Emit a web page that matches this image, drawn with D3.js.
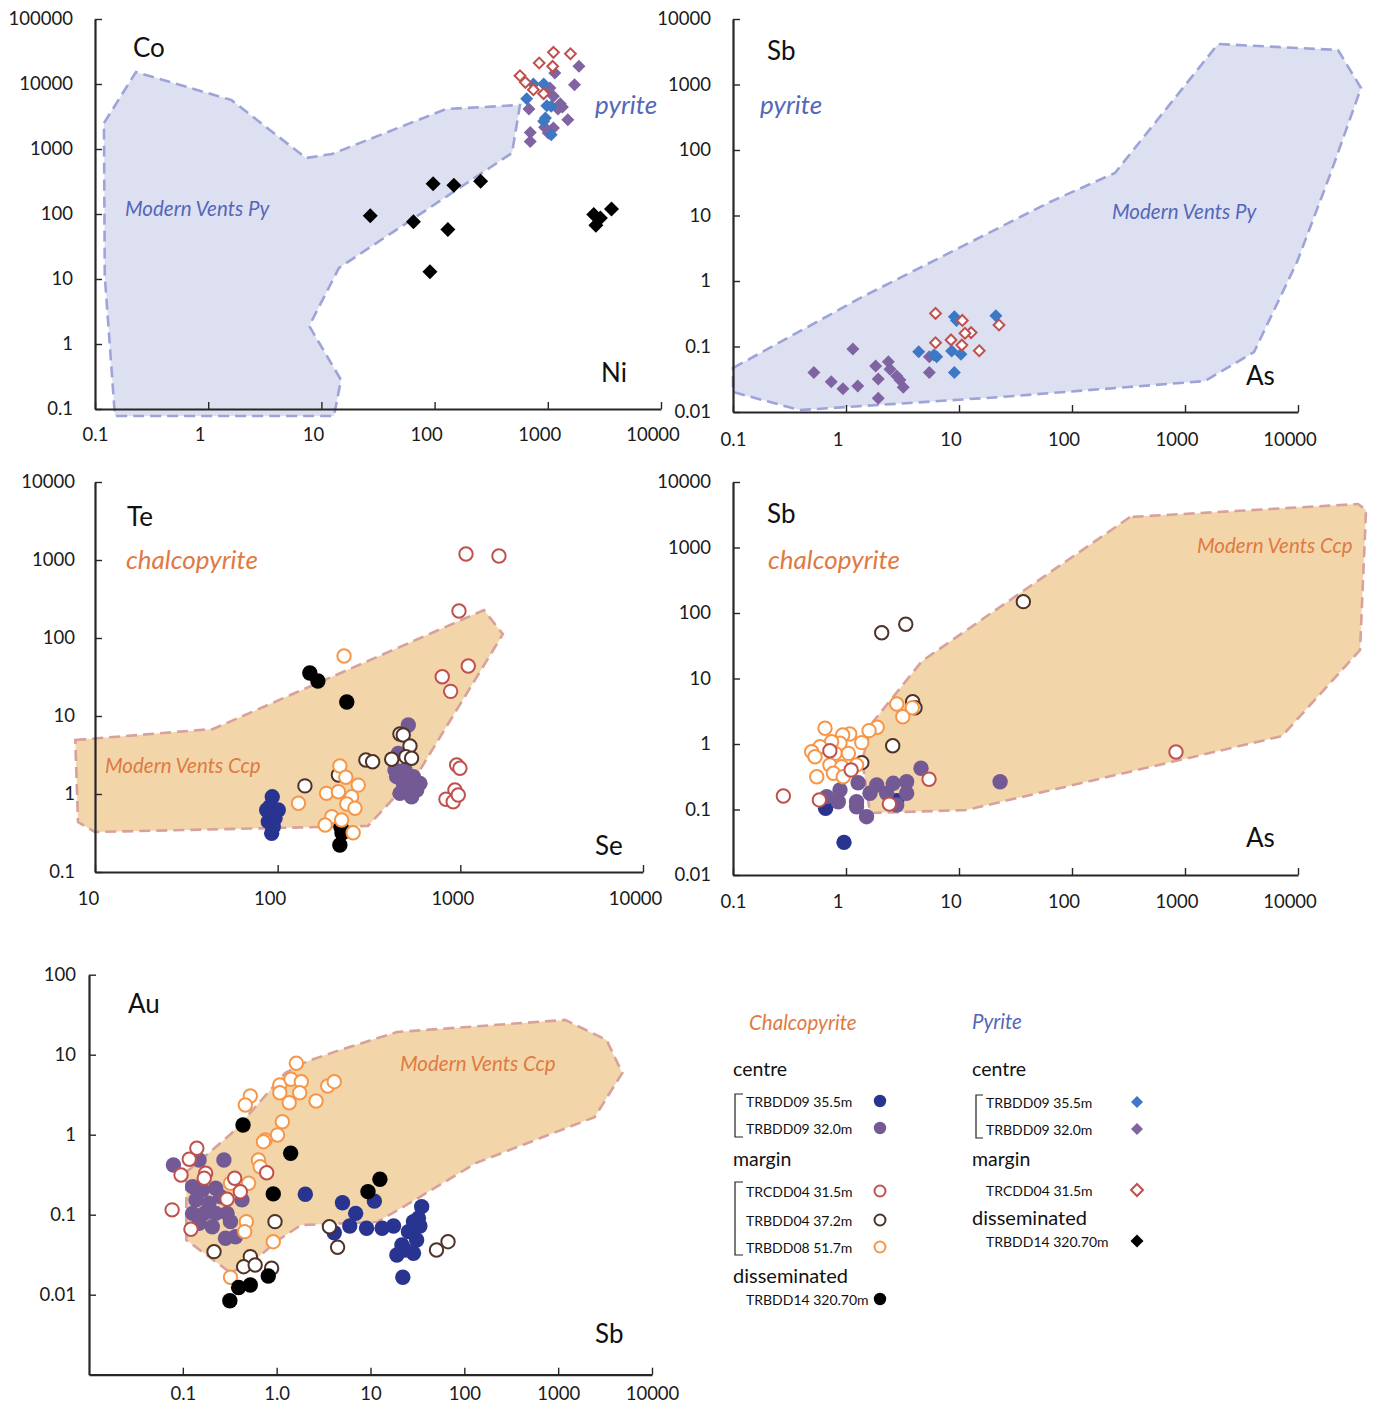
<!DOCTYPE html>
<html><head><meta charset="utf-8">
<script src="https://cdn.jsdelivr.net/npm/d3@7"></script>
<style>
body{margin:0;background:#fff;}
svg{display:block;font-family:Lato,"Open Sans",sans-serif;}
</style></head><body>
<svg id="chart" width="1373" height="1405"></svg>
<script>
// ---------------- DATA ----------------
// Panel 1: pyrite Ni (x) vs Co (y)
const pyNiCo_TRBDD14 = [[27,94],[65,76],[97,292],[91,12.9],[131,58],[148,277],[255,318],[2545,98],[2915,87],[2660,67],[3655,119]];
const pyNiCo_TRBDD09_320 = [[1153,14760],[1883,18700],[1722,9750],[1044,8670],[1122,6470],[681,4120],[1288,4980],[1346,4430],[1230,4120],[1502,2820],[700,1800],[700,1310],[1122,2100],[937,2160],[1009,1760]];
const pyNiCo_TRBDD09_355 = [[746,10000],[920,10000],[651,5940],[980,4640],[1072,4540],[953,3000],[920,2670],[1072,1660]];
const pyNiCo_TRCDD04 = [[568,13400],[634,10600],[839,21000],[1122,30700],[1585,29200],[1103,18700],[746,8170],[918,7100]];
const ventsPy_NiCo = [[0.12,2500],[0.23,15300],[1.6,5670],[7.3,727],[12.4,838],[126,4120],[568,4750],[483,868],[14.3,14.8],[7.8,1.9],[14.9,0.28],[12.9,0.078],[0.15,0.078],[0.122,11.1]];

// Panel 2: pyrite As (x) vs Sb (y)
const pyAsSb_TRBDD09_320 = [[1.15,0.0916],[0.52,0.040],[0.74,0.029],[0.94,0.0227],[1.27,0.0249],[1.83,0.0504],[2.37,0.0586],[2.45,0.0449],[1.93,0.0319],[2.81,0.0355],[3.0,0.0308],[3.21,0.0238],[1.93,0.0162],[5.46,0.040],[5.46,0.070]];
const pyAsSb_TRBDD09_355 = [[9.1,0.285],[9.5,0.25],[21.2,0.295],[4.4,0.083],[6.0,0.074],[6.35,0.070],[8.6,0.085],[10.4,0.076],[9.1,0.040]];
const pyAsSb_TRCDD04 = [[6.2,0.32],[10.7,0.25],[22.6,0.213],[12.8,0.163],[11.3,0.159],[6.2,0.114],[8.5,0.126],[10.6,0.105],[15.1,0.0863]];
const ventsPy_AsSb = [[0.1,0.047],[1.39,0.57],[63.9,16.1],[240,44.6],[1960,4150],[22600,3365],[36100,885],[19200,41.5],[9800,1.95],[4080,0.082],[1500,0.0297],[23,0.0169],[0.39,0.0107],[0.1,0.0202]];

// Panel 3: chalcopyrite Se (x) vs Te (y)
const ccpSeTe_TRBDD09_355 = [[93.4,0.92],[90.7,0.687],[100.7,0.624],[88.9,0.442],[96.7,0.488],[92.7,0.313],[94.6,0.381],[87.1,0.624]];
const ccpSeTe_TRBDD09_320 = [[519,7.67],[457,3.32],[448,1.67],[487,1.37],[553,1.67],[601,1.37],[467,1.02],[508,1.125],[541,0.92],[439,2.03],[577,1.125],[498,2.03]];
const ccpSeTe_TRBDD04 = [[141,1.27],[304,2.73],[331,2.59],[421,2.79],[467,5.88],[487,5.71],[530,4.12],[504,3.01],[541,2.87],[215,1.75]];
const ccpSeTe_TRBDD08 = [[231,58.8],[219,2.29],[236,1.64],[276,1.30],[185,1.02],[215,1.07],[254,0.92],[239,0.745],[265,0.656],[130,0.76],[198,0.512],[182,0.40],[259,0.319],[224,0.464]];
const ccpSeTe_TRCDD04 = [[1074,1194],[1627,1125],[983,222],[1105,43.8],[796,31.9],[885,20.7],[955,2.35],[995,2.14],[934,1.125],[834,0.855],[914,0.796],[974,0.97]];
const ccpSeTe_TRBDD14 = [[150,35.6],[166,28.1],[239,15.1],[222,0.378],[225,0.316],[219,0.222]];
const ventsCcp_SeTe = [[7.8,4.92],[44.3,6.81],[1346,228],[1710,112],[601,2.03],[312,0.389],[10,0.326],[8.07,0.438]];

// Panel 4: chalcopyrite As (x) vs Sb (y)
const ccpAsSb_TRBDD09_355 = [[0.66,0.104],[2.81,0.136],[0.96,0.0315]];
const ccpAsSb_TRBDD09_320 = [[4.61,0.426],[23.1,0.265],[3.44,0.265],[2.62,0.251],[1.87,0.237],[1.28,0.256],[0.885,0.199],[0.675,0.157],[1.24,0.131],[1.63,0.177],[2.29,0.177],[3.44,0.177],[0.855,0.131],[1.24,0.110],[1.52,0.0777],[2.81,0.117]];
const ccpAsSb_TRBDD04 = [[37.1,149],[2.07,50],[3.38,67.2],[3.89,4.43],[4.08,3.58],[2.59,0.94],[1.38,0.519]];
const ccpAsSb_TRBDD08 = [[2.81,4.08],[3.86,3.58],[3.18,2.61],[0.652,1.74],[1.89,1.80],[1.60,1.60],[1.08,1.42],[0.935,1.37],[1.38,1.05],[0.885,1.03],[0.746,1.08],[0.589,0.91],[0.497,0.762],[0.532,0.64],[0.80,0.72],[1.05,0.72],[0.72,0.477],[0.916,0.45],[1.24,0.477],[0.551,0.317],[0.773,0.357],[0.946,0.317]];
const ccpAsSb_TRCDD04 = [[0.72,0.79],[1.11,0.40],[5.43,0.289],[0.279,0.161],[0.581,0.14],[2.42,0.121],[832,0.755]];
const ventsCcp_AsSb = [[326,2920],[4.71,18.5],[1.73,2.17],[1.39,0.57],[1.63,0.0885],[11.5,0.098],[7210,1.32],[35400,27.2],[40000,3740],[34000,4610]];

// Panel 5: chalcopyrite Sb (x) vs Au (y)
const ccpSbAu_TRBDD09_355 = [[2.02,0.18],[5.03,0.141],[6.95,0.104],[11.0,0.148],[6.01,0.0723],[4.11,0.0596],[9.08,0.0676],[35.1,0.126],[13.3,0.0676],[17.6,0.0723],[28.7,0.0819],[32.4,0.0902],[33.6,0.0723],[25.4,0.0614],[31.0,0.0483],[21.6,0.0418],[19.1,0.0313],[28.7,0.033],[23.4,0.0362],[22.1,0.0165]];
const ccpSbAu_TRBDD09_320 = [[0.0794,0.418],[0.274,0.483],[0.149,0.483],[0.127,0.224],[0.162,0.204],[0.224,0.214],[0.138,0.153],[0.19,0.139],[0.253,0.168],[0.127,0.104],[0.169,0.104],[0.224,0.104],[0.296,0.104],[0.149,0.0782],[0.206,0.0708],[0.322,0.0819],[0.285,0.0507],[0.364,0.0531],[0.427,0.153]];
const ccpSbAu_TRBDD04 = [[0.96,0.0819],[0.215,0.0345],[0.524,0.0299],[0.445,0.0224],[0.59,0.0235],[0.883,0.0214],[3.65,0.0708],[4.46,0.0392],[50.5,0.0362],[67,0.046]];
const ccpSbAu_TRBDD08 = [[1.62,7.81],[1.08,4.18],[1.42,4.93],[1.83,4.6],[1.08,3.35],[1.36,2.51],[1.76,3.35],[0.524,3.05],[0.463,2.35],[2.63,2.64],[3.5,4.06],[4.11,4.6],[1.15,1.45],[1.02,0.99],[0.754,0.859],[0.723,0.818],[0.64,0.483],[0.667,0.398],[0.502,0.247],[0.322,0.247],[0.475,0.0819],[0.456,0.0614],[0.92,0.046],[0.322,0.0165]];
const ccpSbAu_TRCDD04 = [[0.141,0.676],[0.117,0.493],[0.0957,0.313],[0.175,0.33],[0.169,0.285],[0.357,0.285],[0.41,0.194],[0.783,0.335],[0.296,0.156],[0.0769,0.115],[0.122,0.0658]];
const ccpSbAu_TRBDD14 = [[0.438,1.32],[1.41,0.586],[0.92,0.182],[0.814,0.0171],[0.393,0.0123],[0.524,0.0132],[0.317,0.0084],[12.6,0.277],[9.4,0.194]];
const ventsCcp_SbAu = [[0.109,0.342],[0.19,0.59],[0.333,1.05],[0.594,2.22],[1.23,5.9],[2.15,8.34],[4.8,11.5],[19.1,19.2],[1183,27.2],[3275,15.3],[4830,5.9],[2448,1.66],[133,0.443],[33.4,0.166],[11.8,0.081],[1.82,0.0743],[1.04,0.0483],[0.64,0.0296],[0.324,0.0187],[0.109,0.0483]];

// Tick values and labels
const ticks_01_10000 = [0.1,1,10,100,1000,10000];
const labels_01_10000 = ["0.1","1","10","100","1000","10000"];
const ticks_01_100000 = [0.1,1,10,100,1000,10000,100000];
const labels_01_100000 = ["0.1","1","10","100","1000","10000","100000"];
const ticks_001_10000 = [0.01,0.1,1,10,100,1000,10000];
const labels_001_10000 = ["0.01","0.1","1","10","100","1000","10000"];
const ticks_10_10000 = [10,100,1000,10000];
const labels_10_10000 = ["10","100","1000","10000"];
const ticks_p5x = [0.1,1,10,100,1000,10000];
const labels_p5x = ["0.1","1.0","10","100","1000","10000"];
const ticks_p5y = [0.01,0.1,1,10,100];
const labels_p5y = ["0.01","0.1","1","10","100"];

// Legend entries
const legendCcp = ["TRBDD09 35.5m","TRBDD09 32.0m","TRCDD04 31.5m","TRBDD04 37.2m","TRBDD08 51.7m","TRBDD14 320.70m"];
const legendPy = ["TRBDD09 35.5m","TRBDD09 32.0m","TRCDD04 31.5m","TRBDD14 320.70m"];

// ---------------- STYLES ----------------
const ST = {
  navyC:  {shape:"c", fill:"#28348f", stroke:null},
  purpC:  {shape:"c", fill:"#735a94", stroke:null},
  redC:   {shape:"c", fill:"#fff", stroke:"#c0504d"},
  brownC: {shape:"c", fill:"#fff", stroke:"#4f3228"},
  orC:    {shape:"c", fill:"#fff", stroke:"#f79646"},
  blackC: {shape:"c", fill:"#000", stroke:null},
  blueD:  {shape:"d", fill:"#3c78c3", stroke:null, s:6.5},
  purpD:  {shape:"d", fill:"#8064a2", stroke:null, s:6.5},
  redD:   {shape:"d", fill:"#fff", stroke:"#c0504d", s:6.2},
  blackD: {shape:"d", fill:"#000", stroke:null, s:7.5}
};
const PY_FIELD = {fill:"#dde0f1", stroke:"#9ea4d8"};
const CCP_FIELD = {fill:"#f2d6aa", stroke:"#d8a19b"};
const BLUE_TXT = "#5567b8", ORANGE_TXT = "#e07a42", AXIS = "#262626";

const svg = d3.select("#chart");

function drawMarks(g, data, st, x, y, r) {
  const sel = g.append("g").selectAll("path").data(data).join("path")
    .attr("transform", d => `translate(${x(d[0])},${y(d[1])})`);
  if (st.shape === "c") {
    const rr = r || 7.7;
    const rad = st.stroke ? rr - 1 : rr;
    sel.attr("d", `M${-rad},0A${rad},${rad} 0 1,0 ${rad},0A${rad},${rad} 0 1,0 ${-rad},0Z`);
  } else {
    const s = r || st.s;
    const ss = st.stroke ? s - 0.8 : s;
    sel.attr("d", `M0,${-ss}L${ss},0L0,${ss}L${-ss},0Z`);
  }
  sel.attr("fill", st.fill)
     .attr("stroke", st.stroke || "none")
     .attr("stroke-width", st.stroke ? 2 : 0);
}

function panel(cfg) {
  const x = d3.scaleLog().domain(cfg.xDomain).range(cfg.xRange);
  const y = d3.scaleLog().domain(cfg.yDomain).range(cfg.yRange);
  const g = svg.append("g");
  // field polygon
  g.append("path").datum(cfg.field.data)
    .attr("d", d3.line().x(d => x(d[0])).y(d => y(d[1])).curve(d3.curveLinearClosed))
    .attr("fill", cfg.field.style.fill)
    .attr("stroke", cfg.field.style.stroke)
    .attr("stroke-width", 2.6)
    .attr("stroke-dasharray", "11,6");
  // axes
  const xa = g.append("g").attr("transform", `translate(0,${cfg.yRange[0]})`)
    .call(d3.axisBottom(x).tickValues(cfg.xTicks).tickFormat((d,i) => cfg.xLabels[i])
      .tickSize(-7).tickSizeOuter(0).tickPadding(cfg.xPad || 18.5));
  xa.selectAll("text").attr("dx", (d,i) => (i === 0 ? (cfg.firstDx || 0) : (cfg.labelDx || 0)));
  const ya = g.append("g").attr("transform", `translate(${cfg.xRange[0]},0)`)
    .call(d3.axisLeft(y).tickValues(cfg.yTicks).tickFormat((d,i) => cfg.yLabels[i])
      .tickSize(-7).tickSizeOuter(0).tickPadding(cfg.yPad || 22));
  [xa, ya].forEach(a => {
    a.attr("font-family", null).attr("font-size", null);
    a.select(".domain").attr("stroke", AXIS).attr("stroke-width", 2.2);
    a.selectAll(".tick line").attr("stroke", AXIS).attr("stroke-width", 1.4);
    a.selectAll("text").attr("fill", "#1a1a1a").style("font-size", "18.5px");
  });
  // series
  cfg.series.forEach(s => drawMarks(g, s.data, s.style, x, y));
  // texts
  cfg.texts.forEach(t => {
    g.append("text").attr("x", t.x).attr("y", t.y).text(t.text)
      .attr("dominant-baseline", "central")
      .style("font-size", t.size + "px")
      .style("font-style", t.italic ? "italic" : "normal")
      .attr("fill", t.color || "#111");
  });
}

// Panel 1
panel({
  xDomain:[0.1,10000], xRange:[95,661], yDomain:[0.1,100000], yRange:[409,19],
  xTicks:ticks_01_10000, xLabels:labels_01_10000, yTicks:ticks_01_100000, yLabels:labels_01_100000,
  labelDx:-8.5, firstDx:0,
  field:{data:ventsPy_NiCo, style:PY_FIELD},
  series:[{data:pyNiCo_TRBDD14, style:ST.blackD},{data:pyNiCo_TRBDD09_320, style:ST.purpD},
          {data:pyNiCo_TRBDD09_355, style:ST.blueD},{data:pyNiCo_TRCDD04, style:ST.redD}],
  texts:[{text:"Co",x:133,y:47,size:26},{text:"Ni",x:601,y:372,size:26},
         {text:"pyrite",x:595,y:104,size:26,italic:true,color:BLUE_TXT},
         {text:"Modern Vents Py",x:125,y:208,size:20.5,italic:true,color:BLUE_TXT}]
});
// Panel 2
panel({
  xDomain:[0.1,10000], xRange:[733,1298], yDomain:[0.01,10000], yRange:[412,19],
  xTicks:ticks_01_10000, xLabels:labels_01_10000, yTicks:ticks_001_10000, yLabels:labels_001_10000,
  labelDx:-8.5, firstDx:0, xPad:20.5,
  field:{data:ventsPy_AsSb, style:PY_FIELD},
  series:[{data:pyAsSb_TRBDD09_320, style:ST.purpD},{data:pyAsSb_TRBDD09_355, style:ST.blueD},
          {data:pyAsSb_TRCDD04, style:ST.redD}],
  texts:[{text:"Sb",x:767,y:50,size:26},{text:"As",x:1246,y:375,size:26},
         {text:"pyrite",x:760,y:104,size:26,italic:true,color:BLUE_TXT},
         {text:"Modern Vents Py",x:1112,y:211,size:20.5,italic:true,color:BLUE_TXT}]
});
// Panel 3
panel({
  xDomain:[10,10000], xRange:[95,643], yDomain:[0.1,10000], yRange:[872,482],
  xTicks:ticks_10_10000, xLabels:labels_10_10000, yTicks:ticks_01_10000, yLabels:labels_01_10000,
  labelDx:-8, firstDx:-7, xPad:19.5, yPad:20,
  field:{data:ventsCcp_SeTe, style:CCP_FIELD},
  series:[{data:ccpSeTe_TRBDD09_355, style:ST.navyC},{data:ccpSeTe_TRBDD09_320, style:ST.purpC},
          {data:ccpSeTe_TRBDD04, style:ST.brownC},{data:ccpSeTe_TRBDD14, style:ST.blackC},
          {data:ccpSeTe_TRBDD08, style:ST.orC},{data:ccpSeTe_TRCDD04, style:ST.redC}],
  texts:[{text:"Te",x:127,y:516,size:26},{text:"Se",x:595,y:845,size:26},
         {text:"chalcopyrite",x:126,y:559,size:26,italic:true,color:ORANGE_TXT},
         {text:"Modern Vents Ccp",x:105,y:765,size:20.5,italic:true,color:ORANGE_TXT}]
});
// Panel 4
panel({
  xDomain:[0.1,10000], xRange:[733,1298], yDomain:[0.01,10000], yRange:[875,482],
  xTicks:ticks_01_10000, xLabels:labels_01_10000, yTicks:ticks_001_10000, yLabels:labels_001_10000,
  labelDx:-8.5, firstDx:0, xPad:19.5,
  field:{data:ventsCcp_AsSb, style:CCP_FIELD},
  series:[{data:ccpAsSb_TRBDD09_355, style:ST.navyC},{data:ccpAsSb_TRBDD09_320, style:ST.purpC},
          {data:ccpAsSb_TRBDD04, style:ST.brownC},{data:ccpAsSb_TRBDD08, style:ST.orC},
          {data:ccpAsSb_TRCDD04, style:ST.redC}],
  texts:[{text:"Sb",x:767,y:513,size:26},{text:"As",x:1246,y:837,size:26},
         {text:"chalcopyrite",x:768,y:559,size:26,italic:true,color:ORANGE_TXT},
         {text:"Modern Vents Ccp",x:1197,y:545,size:20.5,italic:true,color:ORANGE_TXT}]
});
// Panel 5
panel({
  xDomain:[0.01,10000], xRange:[89,652], yDomain:[0.001,100], yRange:[1374.7,974.7],
  xTicks:ticks_p5x, xLabels:labels_p5x, yTicks:ticks_p5y, yLabels:labels_p5y,
  labelDx:0, firstDx:0, xPad:12.5, yPad:13,
  field:{data:ventsCcp_SbAu, style:CCP_FIELD},
  series:[{data:ccpSbAu_TRBDD09_355, style:ST.navyC},{data:ccpSbAu_TRBDD09_320, style:ST.purpC},
          {data:ccpSbAu_TRBDD04, style:ST.brownC},{data:ccpSbAu_TRBDD08, style:ST.orC},
          {data:ccpSbAu_TRCDD04, style:ST.redC},{data:ccpSbAu_TRBDD14, style:ST.blackC}],
  texts:[{text:"Au",x:128,y:1003,size:26},{text:"Sb",x:595,y:1333,size:26},
         {text:"Modern Vents Ccp",x:400,y:1063,size:20.5,italic:true,color:ORANGE_TXT}]
});

// ---------------- LEGEND ----------------
const lg = svg.append("g");
function ltext(t, x, y, size, opts) {
  opts = opts || {};
  lg.append("text").attr("x", x).attr("y", y).text(t)
    .attr("dominant-baseline", "central")
    .style("font-size", size + "px")
    .style("font-style", opts.italic ? "italic" : "normal")
    .attr("fill", opts.color || "#111");
}
function bracket(x, y1, y2, w) {
  lg.append("path").attr("d", `M${x + w},${y1}H${x}V${y2}H${x + w}`)
    .attr("fill", "none").attr("stroke", "#222").attr("stroke-width", 1.2);
}
function lmark(st, x, y, r) {
  const id = d3.scaleLinear();
  drawMarks(lg, [[x, y]], st, id, id, r);
}
// chalcopyrite column
ltext("Chalcopyrite", 749, 1022, 20.5, {italic:true, color:ORANGE_TXT});
ltext("centre", 733, 1068, 19.5);
bracket(735, 1094, 1137, 8);
ltext(legendCcp[0], 746, 1101, 14); lmark(ST.navyC, 880, 1101, 6.2);
ltext(legendCcp[1], 746, 1128, 14); lmark(ST.purpC, 880, 1128, 6.2);
ltext("margin", 733, 1158, 19.5);
bracket(735, 1182, 1255, 8);
ltext(legendCcp[2], 746, 1191, 14); lmark(ST.redC, 880, 1191, 6.5);
ltext(legendCcp[3], 746, 1220, 14); lmark(ST.brownC, 880, 1220, 6.5);
ltext(legendCcp[4], 746, 1247, 14); lmark(ST.orC, 880, 1247, 6.5);
ltext("disseminated", 733, 1275, 20);
ltext(legendCcp[5], 746, 1299, 14); lmark(ST.blackC, 880, 1299, 6.2);
// pyrite column
ltext("Pyrite", 972, 1021, 20.5, {italic:true, color:BLUE_TXT});
ltext("centre", 972, 1068, 19.5);
bracket(976, 1095, 1138, 7);
ltext(legendPy[0], 986, 1102, 14); lmark(ST.blueD, 1137, 1102, 6);
ltext(legendPy[1], 986, 1129, 14); lmark(ST.purpD, 1137, 1129, 6);
ltext("margin", 972, 1158, 19.5);
ltext(legendPy[2], 986, 1190, 14); lmark(ST.redD, 1137, 1190, 6.8);
ltext("disseminated", 972, 1217, 20);
ltext(legendPy[3], 986, 1241, 14); lmark(ST.blackD, 1137, 1241, 6.5);
</script>
</body></html>
